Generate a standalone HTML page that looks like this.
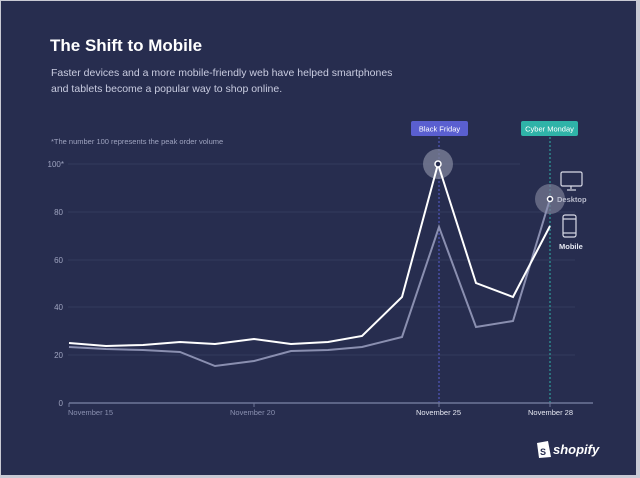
<!DOCTYPE html>
<html><head><meta charset="utf-8"><style>
html,body{margin:0;padding:0;background:#e8e8ec;}
svg{display:block;}
</style></head><body>
<svg width="640" height="478" viewBox="0 0 640 478" xmlns="http://www.w3.org/2000/svg" font-family="Liberation Sans, sans-serif">
<rect x="0" y="0" width="640" height="478" fill="#c9cad4"/>
<rect x="1" y="1" width="635" height="474" fill="#272d4f"/>
<text x="50" y="51" fill="#ffffff" font-size="17" font-weight="bold">The Shift to Mobile</text>
<text x="51" y="76" fill="#c9cce0" font-size="10.5">Faster devices and a more mobile-friendly web have helped smartphones</text>
<text x="51" y="92" fill="#c9cce0" font-size="10.5">and tablets become a popular way to shop online.</text>
<text x="51" y="144" fill="#9ea3bf" font-size="7.5">*The number 100 represents the peak order volume</text>
<g stroke="#333a5e" stroke-width="1">
<line x1="68" y1="164" x2="520" y2="164"/>
<line x1="68" y1="212" x2="575" y2="212"/>
<line x1="68" y1="260" x2="575" y2="260"/>
<line x1="68" y1="307" x2="575" y2="307"/>
<line x1="68" y1="355" x2="575" y2="355"/>
</g>
<g fill="#9ea3bf" font-size="8" text-anchor="end">
<text x="64" y="167">100*</text><text x="63" y="215">80</text><text x="63" y="263">60</text>
<text x="63" y="310">40</text><text x="63" y="358">20</text><text x="63" y="406">0</text>
</g>
<line x1="439" y1="137" x2="439" y2="403" stroke="#5a5fd0" stroke-dasharray="2,2" stroke-width="1"/>
<line x1="550" y1="137" x2="550" y2="403" stroke="#2fb3a8" stroke-dasharray="2,2" stroke-width="1"/>
<line x1="69" y1="403" x2="593" y2="403" stroke="#6f7698" stroke-width="1.5"/>
<g stroke="#6f7698"><line x1="69" y1="403" x2="69" y2="407"/><line x1="254" y1="403" x2="254" y2="407"/><line x1="439" y1="403" x2="439" y2="407"/><line x1="550" y1="403" x2="550" y2="407"/></g>
<g font-size="7.5">
<text x="68" y="415" fill="#8a90b0">November 15</text>
<text x="230" y="415" fill="#8a90b0">November 20</text>
<text x="416" y="415" fill="#e6e8f2">November 25</text>
<text x="528" y="415" fill="#e6e8f2">November 28</text>
</g>
<rect x="411" y="121" width="57" height="15" rx="2" fill="#5a5fd0"/>
<text x="439.5" y="131.5" fill="#fff" font-size="7.5" text-anchor="middle">Black Friday</text>
<rect x="521" y="121" width="57" height="15" rx="2" fill="#2fb3a8"/>
<text x="549.5" y="131.5" fill="#fff" font-size="7.5" text-anchor="middle">Cyber Monday</text>
<circle cx="438" cy="164" r="15" fill="#7a7e96" opacity="0.8"/>
<circle cx="550" cy="199" r="15" fill="#7a7e96" opacity="0.7"/>
<polyline fill="none" stroke="#8a8fb0" stroke-width="2" points="69,347 106,349 143,350 180,352 215,366 254,361 291,351 328,350 362,347 402,337 439,227 476,327 513,321 550,199"/>
<polyline fill="none" stroke="#ffffff" stroke-width="2" points="69,343 106,346 143,345 180,342 215,344 254,339 291,344 328,342 362,336 402,297 438,164 476,283 513,297 550,226"/>
<circle cx="438" cy="164" r="3" fill="#272d4f" stroke="#fff" stroke-width="1.5"/>
<circle cx="550" cy="199" r="2.5" fill="#272d4f" stroke="#fff" stroke-width="1.5"/>
<g fill="none" stroke="#d8dae6" stroke-width="1.2">
<rect x="561" y="172" width="21" height="14" rx="1.5"/>
<line x1="571" y1="186" x2="571" y2="189"/><line x1="567" y1="190" x2="576" y2="190"/>
<rect x="563" y="215" width="13" height="22" rx="2"/>
<line x1="563" y1="219" x2="576" y2="219"/><line x1="563" y1="233" x2="576" y2="233"/>
</g>
<text x="557" y="202" fill="#b8bbcc" font-size="7.5" font-weight="bold">Desktop</text>
<text x="559" y="249" fill="#e6e8f2" font-size="7.5" font-weight="bold">Mobile</text>
<path d="M537 443 L548 441 L551 457 L539 458 Z" fill="#fff"/>
<text x="543" y="455" fill="#272d4f" font-size="9" font-weight="bold" text-anchor="middle">S</text>
<text x="553" y="454" fill="#fff" font-size="13" font-weight="bold" font-style="italic">shopify</text>
</svg>
</body></html>
